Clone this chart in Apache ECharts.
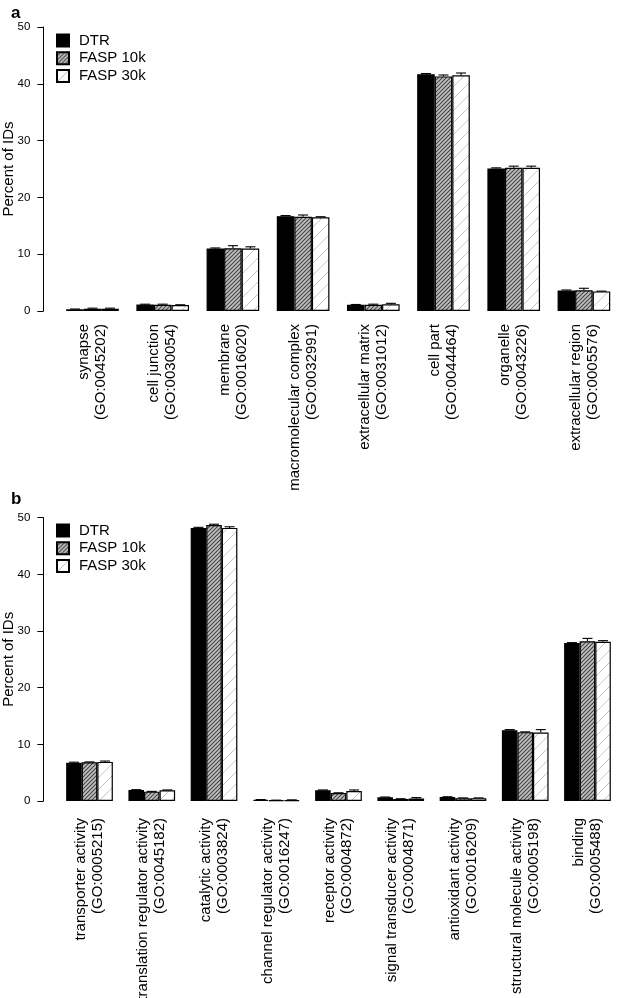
<!DOCTYPE html>
<html>
<head>
<meta charset="utf-8">
<script src="https://cdn.jsdelivr.net/npm/echarts@6/dist/echarts.min.js"></script>
<style>
html,body{margin:0;padding:0;background:#fff;}
#chart{width:619px;height:998px;}
</style>
</head>
<body>
<div id="chart"></div>
<script>
// ---------- DATA ----------
var seriesNames = ['DTR', 'FASP 10k', 'FASP 30k'];
var yTicks = [0, 10, 20, 30, 40, 50];

// Panel a: cellular component
var termsA = ['synapse', 'cell junction', 'membrane', 'macromolecular complex', 'extracellular matrix', 'cell part', 'organelle', 'extracellular region'];
var goA = ['GO:0045202', 'GO:0030054', 'GO:0016020', 'GO:0032991', 'GO:0031012', 'GO:0044464', 'GO:0043226', 'GO:0005576'];
var dtrA = [0.3, 1.15, 11.0, 16.7, 1.1, 41.7, 25.1, 3.6];
var fasp10A = [0.4, 1.1, 11.05, 16.6, 1.1, 41.3, 25.2, 3.65];
var fasp30A = [0.4, 1.05, 11.0, 16.5, 1.2, 41.5, 25.2, 3.45];
var errDtrA = [0.05, 0.05, 0.1, 0.1, 0.05, 0.1, 0.1, 0.1];
var err10A = [0.1, 0.1, 0.45, 0.3, 0.1, 0.25, 0.3, 0.35];
var err30A = [0.1, 0.05, 0.3, 0.1, 0.15, 0.4, 0.3, 0.05];

// Panel b: molecular function
var termsB = ['transporter activity', 'translation regulator activity', 'catalytic activity', 'channel regulator activity', 'receptor activity', 'signal transducer activity', 'antioxidant activity', 'structural molecule activity', 'binding'];
var goB = ['GO:0005215', 'GO:0045182', 'GO:0003824', 'GO:0016247', 'GO:0004872', 'GO:0004871', 'GO:0016209', 'GO:0005198', 'GO:0005488'];
var dtrB = [6.75, 1.95, 48.2, 0.2, 1.9, 0.65, 0.7, 12.5, 27.9];
var fasp10B = [6.85, 1.65, 48.7, 0.1, 1.4, 0.35, 0.5, 12.15, 28.2];
var fasp30B = [6.9, 1.9, 48.2, 0.15, 1.75, 0.45, 0.5, 12.1, 28.1];
var errDtrB = [0.1, 0.05, 0.1, 0.05, 0.05, 0.05, 0.05, 0.1, 0.05];
var err10B = [0.05, 0.05, 0.15, 0.05, 0.05, 0.05, 0.05, 0.05, 0.5];
var err30B = [0.15, 0.05, 0.2, 0.05, 0.2, 0.15, 0.05, 0.5, 0.2];

// ---------- STYLE HELPERS ----------
var FONT = '"Liberation Sans", Arial, Helvetica, sans-serif';

function hatch(size, bg, fg, lw) {
  var c = document.createElement('canvas');
  c.width = size; c.height = size;
  var g = c.getContext('2d');
  g.fillStyle = bg; g.fillRect(0, 0, size, size);
  g.strokeStyle = fg; g.lineWidth = lw;
  g.beginPath();
  g.moveTo(-1, size + 1); g.lineTo(size + 1, -1);
  g.moveTo(-1, 1); g.lineTo(1, -1);
  g.moveTo(size - 1, size + 1); g.lineTo(size + 1, size - 1);
  g.stroke();
  return c;
}
var fills = [
  '#000000',
  { image: hatch(4, '#c0c0c0', '#454545', 1.1), repeat: 'repeat' },
  { image: hatch(12, '#ffffff', '#c4c4c4', 1), repeat: 'repeat' }
];

function labels(terms, gos) {
  return terms.map(function (t, i) { return t + '\n(' + gos[i] + ')'; });
}

function makeAxes(idx, cats, margin, offset) {
  return {
    x: {
      type: 'category', gridIndex: idx, data: cats,
      axisLine: { show: false }, axisTick: { show: false },
      axisLabel: {
        interval: 0, rotate: 90, margin: margin, color: '#000',
        fontFamily: FONT, fontSize: 15, lineHeight: 17
      }
    },
    y: {
      type: 'value', gridIndex: idx, min: 0, max: 50, interval: 10, offset: offset,
      name: 'Percent of IDs', nameLocation: 'middle', nameGap: 27, nameMoveOverlap: false,
      nameTextStyle: { fontFamily: FONT, fontSize: 15, color: '#000' },
      axisLine: { show: true, lineStyle: { color: '#000', width: 1 } },
      axisTick: { show: true, length: 6, lineStyle: { color: '#000', width: 1 } },
      axisLabel: {
        color: '#000', fontFamily: FONT, fontSize: 11.5, margin: 13,
        formatter: function (v) { return yTicks.indexOf(v) >= 0 ? String(v) : ''; }
      },
      splitLine: { show: false }
    }
  };
}

var series = [];
function addPanel(idx, vals, errs) {
  vals.forEach(function (arr, s) {
    series.push({
      type: 'bar', name: seriesNames[s], xAxisIndex: idx, yAxisIndex: idx,
      data: arr, barWidth: '25%', barGap: '0%',
      itemStyle: { color: fills[s], borderColor: '#000', borderWidth: 1.2 },
      emphasis: { disabled: true }, animation: false
    });
  });
  vals.forEach(function (arr, s) {
    series.push({
      type: 'custom', name: 'err' + idx + '_' + s, xAxisIndex: idx, yAxisIndex: idx,
      data: arr.map(function (v, i) { return [i, v, errs[s][i]]; }),
      encode: { x: 0, y: 1 }, z: 10, animation: false, silent: true,
      renderItem: function (params, api) {
        var i = api.value(0), v = api.value(1), e = api.value(2);
        var p0 = api.coord([i, v]);
        var p1 = api.coord([i, v + e]);
        var bw = api.size([1, 0])[0];
        var x = p0[0] + (s - 1) * bw * 0.25;
        var st = { stroke: '#000', lineWidth: 1.1 };
        return {
          type: 'group', children: [
            { type: 'line', shape: { x1: x, y1: p0[1], x2: x, y2: p1[1] }, style: st },
            { type: 'line', shape: { x1: x - 5, y1: p1[1], x2: x + 5, y2: p1[1] }, style: st }
          ]
        };
      }
    });
  });
}

var axA = makeAxes(0, labels(termsA, goA), 13, 14);
var axB = makeAxes(1, labels(termsB, goB), 17, 15);
addPanel(0, [dtrA, fasp10A, fasp30A], [errDtrA, err10A, err30A]);
addPanel(1, [dtrB, fasp10B, fasp30B], [errDtrB, err10B, err30B]);

function legend(top) {
  return {
    data: seriesNames, orient: 'vertical', left: 56, top: top,
    icon: 'rect', itemWidth: 12, itemHeight: 12, itemGap: 2.7,
    selectedMode: false, padding: 0,
    textStyle: { fontFamily: FONT, fontSize: 15, color: '#000', lineHeight: 15, padding: [0, 0, 0, 5] }
  };
}

var chart = echarts.init(document.getElementById('chart'), null, { renderer: 'canvas' });
chart.setOption({
  backgroundColor: '#fff',
  animation: false,
  grid: [
    { left: 57.4, width: 561.6, top: 27, height: 284, outerBoundsMode: 'none', containLabel: false },
    { left: 58.4, width: 560.2, top: 517.7, height: 283.3, outerBoundsMode: 'none', containLabel: false }
  ],
  xAxis: [axA.x, axB.x],
  yAxis: [axA.y, axB.y],
  legend: [legend(33), legend(523)],
  graphic: [
    { type: 'text', left: 11, top: 5, style: { text: 'a', font: 'bold 17px ' + FONT, fill: '#000' } },
    { type: 'text', left: 11, top: 491, style: { text: 'b', font: 'bold 17px ' + FONT, fill: '#000' } }
  ],
  series: series
});
</script>
</body>
</html>
